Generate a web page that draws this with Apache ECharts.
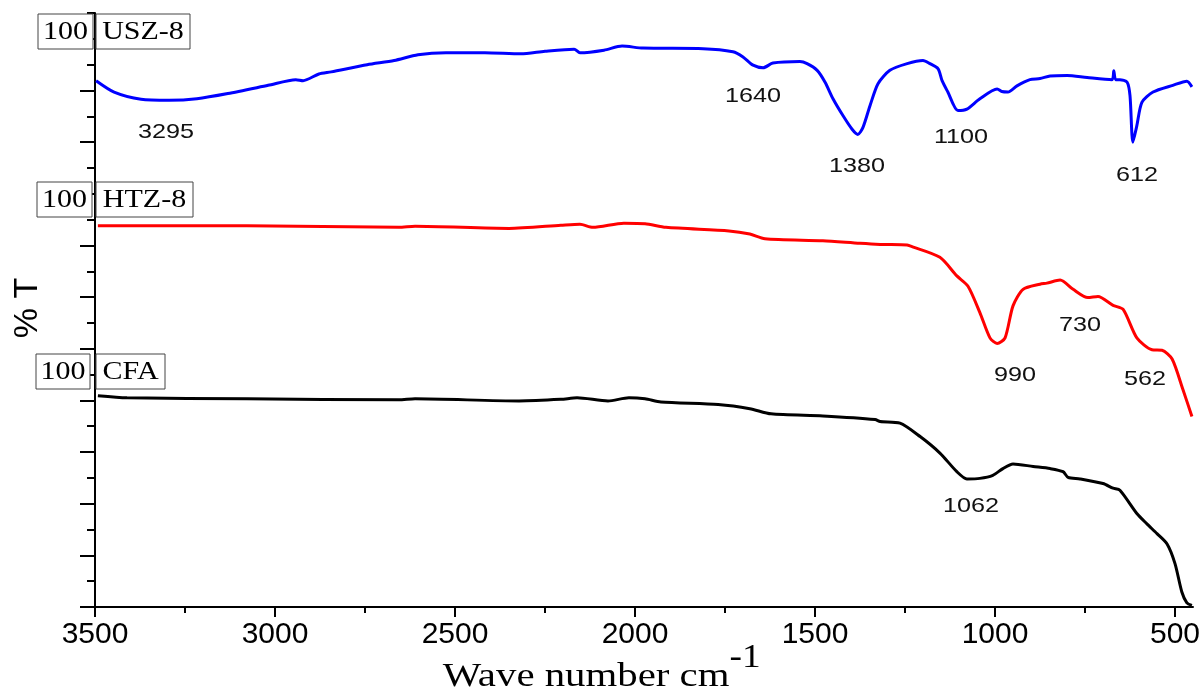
<!DOCTYPE html>
<html><head><meta charset="utf-8">
<script src="https://cdn.jsdelivr.net/npm/echarts@6/dist/echarts.min.js"></script>
<style>html,body{margin:0;padding:0;background:#fff}#c{width:1204px;height:688px}</style>
</head><body><div id="c"></div>
<script>
// wavenumber (cm-1), offset %T (axis units)
var usz8 = [[3497,101.9],[3447,99.7],[3372,98.3],[3294,98.1],[3217,98.4],[3131,99.4],[3019,101.0],[2942,102.1],[2922,101.9],[2878,103.2],[2844,103.6],[2744,105.0],[2669,105.8],[2603,106.9],[2525,107.3],[2417,107.3],[2317,107.1],[2250,107.6],[2169,108.0],[2153,107.3],[2086,107.8],[2036,108.6],[1978,108.2],[1811,108.1],[1728,107.5],[1700,106.5],[1672,104.9],[1644,104.4],[1617,105.3],[1542,105.6],[1522,105.2],[1494,103.9],[1472,101.6],[1450,98.4],[1422,95.1],[1397,92.5],[1381,91.5],[1367,92.8],[1347,97.1],[1325,101.3],[1292,103.9],[1244,105.2],[1200,105.8],[1181,105.2],[1158,104.2],[1147,101.9],[1131,99.7],[1103,96.1],[1078,96.4],[1042,98.4],[994,100.3],[981,99.8],[964,99.7],[939,100.9],[903,102.1],[875,102.3],[847,102.8],[800,102.9],[744,102.5],[675,102.1],[670,103.8],[665,102.1],[653,102.1],[633,101.6],[625,99.0],[617,90.0],[606,93.2],[592,97.7],[561,99.7],[506,101.0],[467,101.8],[453,100.7]];
var htz8 = [[3492,73.8],[3078,73.8],[2656,73.5],[2611,73.7],[2350,73.3],[2206,73.9],[2153,74.1],[2117,73.5],[2031,74.3],[1972,74.2],[1914,73.5],[1739,72.8],[1681,72.2],[1639,71.3],[1478,70.9],[1375,70.4],[1319,70.2],[1244,70.1],[1236,69.9],[1153,67.7],[1106,64.1],[1075,62.1],[1042,57.0],[1014,52.1],[994,51.0],[972,52.1],[950,58.3],[922,61.5],[875,62.5],[856,62.7],[819,63.3],[783,61.5],[742,59.9],[714,60.1],[672,58.4],[644,57.6],[606,52.1],[564,49.8],[536,49.7],[508,48.0],[478,42.1],[453,36.9]];
var cfa = [[3492,40.9],[3411,40.5],[3078,40.3],[2656,40.1],[2611,40.3],[2322,39.9],[2206,40.2],[2161,40.5],[2075,39.9],[2017,40.5],[1972,40.3],[1928,39.7],[1769,39.2],[1681,38.4],[1622,37.4],[1478,37.0],[1333,36.3],[1319,35.9],[1264,35.6],[1208,33.0],[1153,29.8],[1106,26.2],[1078,24.8],[1042,24.9],[1006,25.5],[978,26.8],[950,27.7],[894,27.2],[847,26.8],[811,26.2],[797,25.1],[764,24.8],[700,23.9],[672,23.0],[653,22.6],[606,18.1],[578,16.1],[550,14.2],[522,12.2],[500,8.4],[481,2.9],[467,0.8],[453,0.3]];
var xMajorTicks = [500,1000,1500,2000,2500,3000,3500];
var xMinorTicks = [750,1250,1750,2250,2750,3250];
var yMajorTicks = [0,10,20,30,40,50,60,70,80,90,100,110];
var yMinorTicks = [5,15,25,35,45,55,65,75,85,95,105,115];
var peakLabels = ['3295','1640','1380','1100','612','990','730','562','1062'];
var sampleNames = ['USZ-8','HTZ-8','CFA'];

var chart = echarts.init(document.getElementById('c'));
var axLine = {show:true, lineStyle:{color:'#000', width:2}};
var sans = 'Liberation Sans, Arial, sans-serif';
var serif = 'Liberation Serif, Times New Roman, serif';

function boxLabel(x, y, w, h, txt) {
  return [
    {type:'rect', shape:{x:x, y:y, width:w, height:h}, style:{fill:'#fff', stroke:'#444', lineWidth:1}, z:10},
    {type:'text', x:x + w/2, y:y + h/2 + 1, scaleX:1.2, style:{text:txt, font:'25px ' + serif, fill:'#000', align:'center', verticalAlign:'middle'}, z:11}
  ];
}
function peak(x, y, t) {
  return {type:'text', x:x, y:y, scaleX:1.2, style:{text:t, font:'21px ' + sans, fill:'#111', align:'center', verticalAlign:'middle'}, z:5};
}
var graphics = [].concat(
  boxLabel(38, 14, 55, 35, '100'), boxLabel(96, 14, 94, 35, sampleNames[0]),
  boxLabel(37, 182, 55, 35, '100'), boxLabel(96, 182, 97, 35, sampleNames[1]),
  boxLabel(36, 354, 54, 35, '100'), boxLabel(96, 354, 69, 35, sampleNames[2]),
  [
    peak(166, 132, peakLabels[0]), peak(753, 96, peakLabels[1]), peak(857, 166, peakLabels[2]),
    peak(961, 137, peakLabels[3]), peak(1137, 175, peakLabels[4]), peak(1015, 375, peakLabels[5]),
    peak(1080, 325, peakLabels[6]), peak(1145, 379, peakLabels[7]), peak(971, 506, peakLabels[8]),
    {type:'text', x:28, y:308, rotation:Math.PI/2, style:{text:'% T', font:'34px ' + sans, fill:'#000', align:'center', verticalAlign:'middle'}},
    {type:'text', x:586, y:677, scaleX:1.2, style:{text:'Wave number cm', font:'34px ' + serif, fill:'#000', align:'center', verticalAlign:'middle'}},
    {type:'text', x:745, y:658, scaleX:1.1, style:{text:'-1', font:'34px ' + serif, fill:'#000', align:'center', verticalAlign:'middle'}}
  ]
);

chart.setOption({
  animation:false,
  grid:{left:95, right:11, top:13, bottom:81},
  xAxis:[
    {type:'value', inverse:true, min:450, max:3500, axisLine:axLine,
     splitLine:{show:false},
     axisTick:{show:true, inside:false, length:10, customValues:xMajorTicks, lineStyle:{color:'#000', width:2}},
     axisLabel:{show:true, customValues:xMajorTicks, fontSize:30, fontFamily:sans, color:'#000', margin:13,
                formatter:function(v){return String(v);}}},
    {type:'value', inverse:true, min:450, max:3500, position:'bottom', axisLine:{show:false},
     splitLine:{show:false},
     axisTick:{show:true, inside:false, length:6, customValues:xMinorTicks, lineStyle:{color:'#000', width:2}},
     axisLabel:{show:false}}
  ],
  yAxis:[
    {type:'value', min:0, max:115, axisLine:axLine, splitLine:{show:false},
     axisTick:{show:true, inside:false, length:15, customValues:yMajorTicks, lineStyle:{color:'#000', width:2}},
     axisLabel:{show:false}},
    {type:'value', min:0, max:115, position:'left', axisLine:{show:false}, splitLine:{show:false},
     axisTick:{show:true, inside:false, length:8, customValues:yMinorTicks, lineStyle:{color:'#000', width:2}},
     axisLabel:{show:false}}
  ],
  series:[
    {name:sampleNames[0], type:'line', data:usz8, showSymbol:false, smooth:0.25, lineStyle:{color:'#0000ff', width:3}, z:3},
    {name:sampleNames[1], type:'line', data:htz8, showSymbol:false, smooth:0.25, lineStyle:{color:'#ff0000', width:3}, z:3},
    {name:sampleNames[2], type:'line', data:cfa, showSymbol:false, smooth:0.25, lineStyle:{color:'#000000', width:3}, z:3}
  ],
  graphic:graphics
});
</script></body></html>
